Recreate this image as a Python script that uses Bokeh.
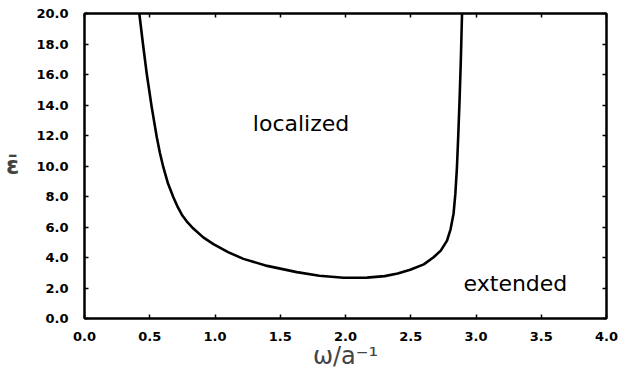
from bokeh.plotting import figure
from bokeh.models import Label, LinearAxis, FixedTicker
from bokeh.embed import file_html
from bokeh.resources import INLINE

# curve: frequency omega (1/a) and epsilon-bar
omega = [0.42, 0.448, 0.477, 0.515, 0.554, 0.578, 0.604, 0.64, 0.681,
         0.715, 0.75, 0.79, 0.834, 0.91, 0.988, 1.10, 1.218, 1.40, 1.627, 1.80,
         1.985, 2.164, 2.30, 2.40, 2.496, 2.60, 2.675, 2.73, 2.778, 2.805,
         2.828, 2.842, 2.854, 2.864, 2.874, 2.884, 2.893]
eps = [20.0, 18.0, 16.05, 13.86, 11.89, 10.85, 9.92, 8.85, 7.95,
       7.3, 6.75, 6.3, 5.9, 5.32, 4.88, 4.35, 3.91, 3.45, 3.04, 2.80,
       2.67, 2.68, 2.78, 2.95, 3.20, 3.55, 4.02, 4.45, 5.11, 5.85,
       6.87, 8.2, 9.92, 12.0, 14.3, 17.0, 20.0]

x_ticks = [0.0, 0.5, 1.0, 1.5, 2.0, 2.5, 3.0, 3.5, 4.0]
y_ticks = [0.0, 2.0, 4.0, 6.0, 8.0, 10.0, 12.0, 14.0, 16.0, 18.0, 20.0]
x_tick_labels = {t: f"{t:.1f}" for t in x_ticks}
y_tick_labels = {t: f"{t:.1f}" for t in y_ticks}

region_labels = ["localized", "extended"]
region_x = [1.29, 2.905]
region_y = [12.77, 2.28]

p = figure(width=626, height=372, x_range=(0, 4), y_range=(0, 20),
           output_backend="svg", toolbar_location=None,
           min_border_left=84, min_border_right=20, min_border_top=13,
           min_border_bottom=54)
p.grid.visible = False
p.outline_line_color = "black"
p.outline_line_width = 2
p.background_fill_color = "white"
p.border_fill_color = "white"

TICK_FONT = "DejaVu Sans"

for ax, ticks, labels in ((p.xaxis[0], x_ticks, x_tick_labels), (p.yaxis[0], y_ticks, y_tick_labels)):
    ax.ticker = FixedTicker(ticks=ticks)
    ax.major_label_overrides = labels
    ax.major_tick_in = 4
    ax.major_tick_out = 0
    ax.minor_tick_line_color = None
    ax.axis_line_width = 2
    ax.major_tick_line_width = 1.5
    ax.major_label_text_font = TICK_FONT
    ax.major_label_text_font_style = "bold"
    ax.major_label_text_font_size = "13px"
    ax.major_label_text_color = "black"

p.xaxis.major_label_standoff = 13
p.yaxis.major_label_standoff = 16

p.xaxis.axis_label = "ω/a⁻¹"
p.xaxis.axis_label_text_font = "DejaVu Sans"
p.xaxis.axis_label_text_font_style = "normal"
p.xaxis.axis_label_text_font_size = "24px"
p.xaxis.axis_label_standoff = -2

p.yaxis.axis_label = "ε̄"
p.yaxis.axis_label_text_font = "DejaVu Sans"
p.yaxis.axis_label_text_font_style = "bold"
p.yaxis.axis_label_text_font_size = "24px"
p.yaxis.axis_label_standoff = 14
p.yaxis.axis_label_orientation = "horizontal"

top = LinearAxis(ticker=FixedTicker(ticks=x_ticks), major_tick_in=4, major_tick_out=0,
                 minor_tick_line_color=None, axis_line_width=2, major_tick_line_width=1.5,
                 major_label_text_color=None, major_label_text_font_size="1px",
                 major_label_standoff=0)
right = LinearAxis(ticker=FixedTicker(ticks=y_ticks), major_tick_in=4, major_tick_out=0,
                   minor_tick_line_color=None, axis_line_width=2, major_tick_line_width=1.5,
                   major_label_text_color=None, major_label_text_font_size="1px",
                   major_label_standoff=0)
p.add_layout(top, "above")
p.add_layout(right, "right")

p.line(omega, eps, line_color="black", line_width=2.6, line_join="round")

for txt, xx, yy in zip(region_labels, region_x, region_y):
    p.add_layout(Label(x=xx, y=yy, text=txt, text_font="DejaVu Sans",
                       text_font_size="22px", text_color="black",
                       text_align="left", text_baseline="alphabetic"))

open("out.html", "w").write(file_html(p, INLINE))
